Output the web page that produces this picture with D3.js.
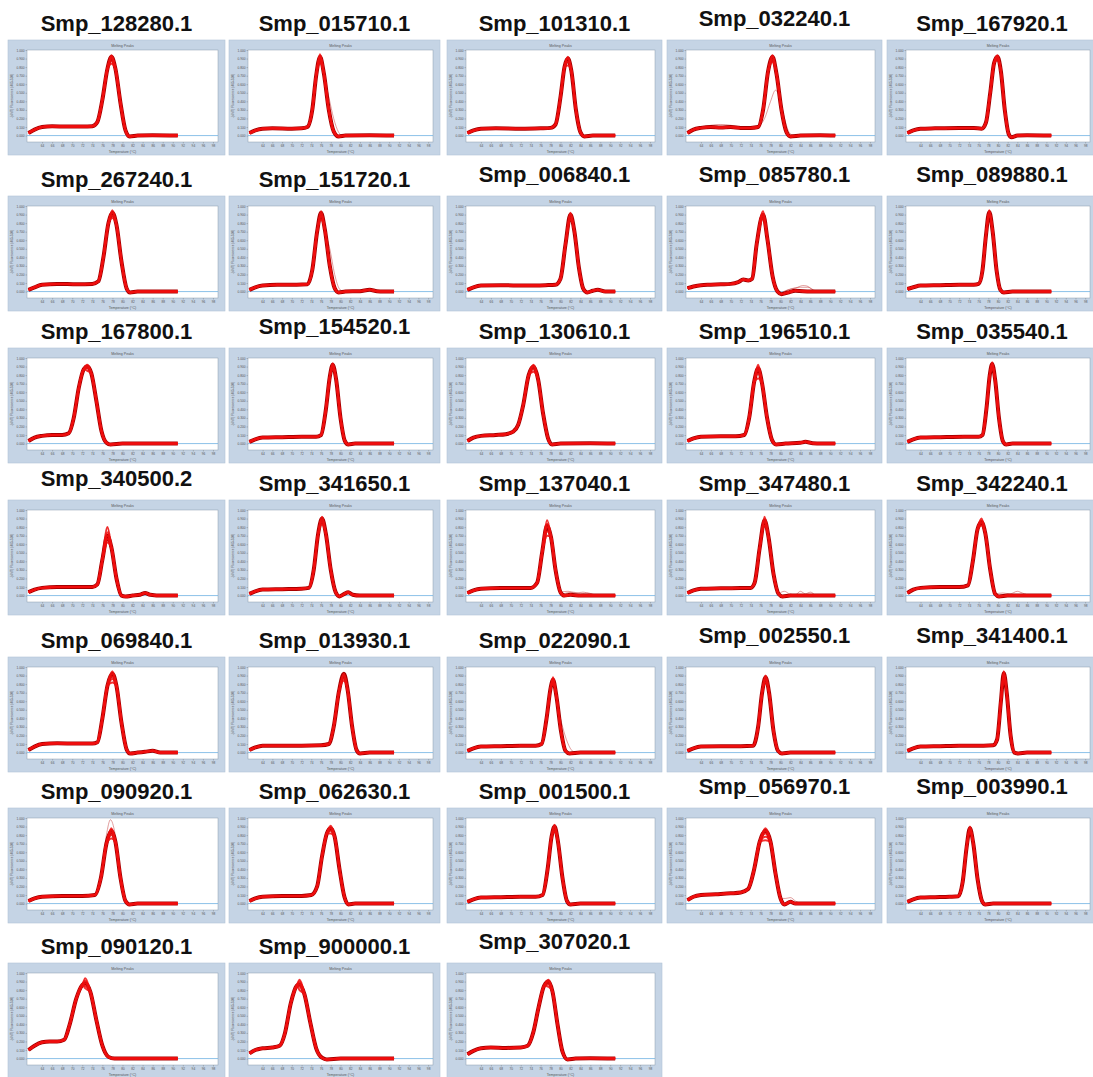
<!DOCTYPE html>
<html>
<head>
<meta charset="utf-8">
<script src="https://cdnjs.cloudflare.com/ajax/libs/d3/7.8.5/d3.min.js"></script>
<style>
  body { margin: 0; background: #fff; }
  svg { display: block; }
  .ttl { font-family: "Liberation Sans", Arial, sans-serif; font-weight: bold; font-size: 22px; fill: #111; }
  .tiny { font-family: "Liberation Sans", Arial, sans-serif; fill: #555; }
</style>
</head>
<body>
<div id="chart"></div>
<script>
// Gene names, in reading order (5 per row)
const geneNames = [
  'Smp_128280.1', 'Smp_015710.1', 'Smp_101310.1', 'Smp_032240.1', 'Smp_167920.1',
  'Smp_267240.1', 'Smp_151720.1', 'Smp_006840.1', 'Smp_085780.1', 'Smp_089880.1',
  'Smp_167800.1', 'Smp_154520.1', 'Smp_130610.1', 'Smp_196510.1', 'Smp_035540.1',
  'Smp_340500.2', 'Smp_341650.1', 'Smp_137040.1', 'Smp_347480.1', 'Smp_342240.1',
  'Smp_069840.1', 'Smp_013930.1', 'Smp_022090.1', 'Smp_002550.1', 'Smp_341400.1',
  'Smp_090920.1', 'Smp_062630.1', 'Smp_001500.1', 'Smp_056970.1', 'Smp_003990.1',
  'Smp_090120.1', 'Smp_900000.1', 'Smp_307020.1'
];

// Melting peak curves: [temperature °C, relative -(d/dT)]
const meltCurves = [
  [[61.3,0.03],[62.5,0.07],[64,0.10],[66,0.11],[69,0.105],[72,0.105],[74,0.11],[75,0.16],[76,0.42],[77,0.78],[77.8,0.92],[78.6,0.78],[79.6,0.38],[80.6,0.06],[81.4,-0.01],[83,0],[86,0.005],[91,0]],
  [[61.3,0.03],[62.5,0.06],[64,0.08],[66,0.085],[70,0.08],[72,0.085],[73.2,0.1],[74.2,0.3],[75,0.7],[75.8,0.92],[76.6,0.72],[77.6,0.3],[78.6,0.05],[79.6,-0.01],[81,0],[86,0.005],[91,0]],
  [[61.3,0.03],[62.5,0.06],[64,0.08],[67,0.085],[72,0.08],[76,0.085],[78,0.09],[79,0.13],[80,0.45],[80.8,0.8],[81.5,0.9],[82.2,0.75],[83.1,0.3],[84,0.04],[84.8,-0.01],[86.5,0],[91,0]],
  [[61.3,0.03],[62.5,0.07],[64,0.09],[66,0.1],[68,0.095],[70,0.1],[72,0.09],[74,0.09],[75.5,0.1],[76.5,0.3],[77.5,0.75],[78.4,0.92],[79.2,0.72],[80.2,0.3],[81.2,0.04],[82,-0.01],[84,0],[88,0.005],[91,0]],
  [[61.3,0.03],[62.5,0.06],[64,0.08],[67,0.085],[72,0.09],[75,0.09],[76.6,0.08],[77.5,0.15],[78.4,0.5],[79.2,0.85],[79.9,0.92],[80.6,0.75],[81.4,0.3],[82.2,0.02],[82.8,-0.02],[84,0],[86,0.005],[91,0]],

  [[61.3,0.02],[62.5,0.05],[64,0.08],[67,0.09],[71,0.085],[74,0.09],[75.2,0.12],[76.2,0.4],[77.2,0.8],[78,0.92],[78.8,0.78],[79.8,0.35],[80.8,0.04],[81.5,-0.01],[83,0],[88,0],[91,0]],
  [[61.3,0.02],[62.5,0.05],[64,0.07],[67,0.08],[71,0.08],[73.2,0.085],[74.2,0.25],[75.2,0.7],[76,0.92],[76.8,0.72],[77.8,0.3],[78.8,0.04],[79.6,-0.01],[81,0],[84,0.005],[86,0.02],[87.5,0.005],[91,0]],
  [[61.3,0.02],[62.5,0.05],[64,0.07],[68,0.075],[73,0.07],[77,0.075],[79,0.08],[80,0.15],[81,0.55],[82,0.9],[82.8,0.7],[83.7,0.28],[84.6,0.03],[85.4,-0.01],[86.5,0.01],[87.5,0.02],[89,0],[91,0]],
  [[61.3,0.04],[62.5,0.06],[64,0.075],[66,0.08],[68,0.085],[70,0.09],[71.5,0.11],[72.5,0.14],[73.5,0.13],[74.3,0.15],[75.2,0.55],[76.5,0.9],[77.4,0.6],[78.4,0.18],[79.4,0],[80.2,-0.03],[81.5,-0.01],[83,0.01],[86,0],[91,0]],
  [[61.3,0.03],[62.5,0.05],[64,0.07],[68,0.075],[72,0.08],[75,0.08],[76,0.09],[76.8,0.25],[77.5,0.65],[78.2,0.93],[78.9,0.7],[79.7,0.25],[80.5,0.02],[81.2,-0.01],[83,0],[91,0]],

  [[61.3,0.03],[62.5,0.07],[64,0.09],[66,0.1],[68,0.1],[69.3,0.12],[70.3,0.3],[71.3,0.65],[72.3,0.87],[73,0.9],[73.8,0.82],[74.8,0.5],[75.8,0.15],[76.8,0.01],[77.6,-0.01],[80,0],[86,0],[91,0]],
  [[61.3,0.02],[62.5,0.05],[64,0.07],[68,0.075],[72,0.08],[75,0.08],[76,0.1],[77,0.4],[77.8,0.78],[78.4,0.92],[79.1,0.75],[80,0.3],[80.9,0.03],[81.6,-0.01],[83,0],[91,0]],
  [[61.3,0.03],[62.5,0.07],[64,0.09],[67,0.1],[69,0.11],[70.5,0.14],[71.5,0.22],[72.5,0.45],[73.6,0.8],[74.6,0.9],[75.5,0.75],[76.5,0.35],[77.5,0.06],[78.3,-0.01],[80,0],[86,0.003],[91,0]],
  [[61.3,0.03],[62.5,0.06],[64,0.08],[68,0.085],[71,0.085],[72.7,0.1],[73.7,0.3],[74.7,0.72],[75.5,0.88],[76.3,0.7],[77.3,0.3],[78.3,0.04],[79.1,-0.01],[81,0],[84,0.01],[85,0.02],[86.5,0.005],[91,0]],
  [[61.3,0.02],[62.5,0.05],[64,0.07],[68,0.075],[73,0.08],[76,0.08],[76.8,0.1],[77.6,0.4],[78.3,0.8],[78.8,0.93],[79.4,0.75],[80.2,0.3],[81,0.03],[81.7,-0.01],[83,0],[91,0]],

  [[61.3,0.04],[62.5,0.07],[64,0.09],[67,0.1],[71,0.1],[74,0.1],[75,0.13],[76,0.42],[77,0.7],[77.8,0.56],[78.8,0.2],[79.8,0],[80.6,-0.01],[82,0],[83.5,0.01],[84.5,0.03],[85.5,0.01],[88,0],[91,0]],
  [[61.3,0.02],[62.5,0.05],[64,0.07],[68,0.075],[72,0.08],[73.5,0.09],[74.5,0.3],[75.4,0.72],[76.2,0.9],[77,0.72],[78,0.3],[79,0.04],[79.8,-0.01],[80.8,0.02],[81.6,0.04],[82.5,0.01],[84,0],[91,0]],
  [[61.3,0.03],[62.5,0.06],[64,0.08],[68,0.09],[72,0.09],[74,0.09],[75.3,0.15],[76.3,0.5],[77.3,0.82],[78.1,0.68],[79,0.3],[80,0.04],[80.8,0],[82,0.01],[84,0],[91,0]],
  [[61.3,0.03],[62.5,0.06],[64,0.08],[68,0.085],[72,0.09],[74,0.09],[74.8,0.15],[75.8,0.55],[76.8,0.88],[77.6,0.68],[78.6,0.25],[79.6,0.02],[80.4,-0.01],[82,0],[91,0]],
  [[61.3,0.03],[62.5,0.07],[64,0.09],[68,0.1],[72,0.1],[73.8,0.12],[74.8,0.4],[75.8,0.78],[76.6,0.86],[77.4,0.72],[78.4,0.3],[79.4,0.02],[80.2,-0.01],[82,0],[91,0]],

  [[61.3,0.03],[62.5,0.07],[64,0.1],[67,0.11],[71,0.105],[74,0.105],[75,0.12],[76,0.4],[77,0.78],[78,0.92],[78.8,0.78],[79.8,0.35],[80.8,0.04],[81.5,-0.01],[83,0],[84.5,0.01],[86,0.02],[87.5,0],[91,0]],
  [[61.3,0.03],[62.5,0.06],[64,0.08],[68,0.08],[72,0.08],[76,0.085],[77.6,0.1],[78.6,0.3],[79.7,0.72],[80.7,0.92],[81.5,0.72],[82.4,0.3],[83.3,0.03],[84,-0.01],[86,0],[91,0]],
  [[61.3,0.02],[62.5,0.05],[64,0.07],[68,0.075],[72,0.08],[75,0.08],[76.2,0.1],[77.2,0.4],[78,0.75],[78.5,0.85],[79.2,0.65],[80.1,0.25],[81,0.02],[81.8,-0.01],[84,0],[91,0]],
  [[61.3,0.02],[62.5,0.05],[64,0.07],[68,0.075],[72,0.075],[74.5,0.08],[75.5,0.3],[76.3,0.7],[77,0.88],[77.7,0.7],[78.6,0.25],[79.5,0.02],[80.3,-0.01],[82,0],[91,0]],
  [[61.3,0.02],[62.5,0.05],[64,0.07],[68,0.075],[72,0.08],[77,0.08],[79,0.085],[79.8,0.15],[80.6,0.6],[81.2,0.93],[81.8,0.7],[82.6,0.2],[83.4,0],[84.2,-0.01],[86,0],[91,0]],

  [[61.3,0.03],[62.5,0.06],[64,0.08],[68,0.09],[72,0.09],[74.5,0.1],[75.7,0.3],[76.8,0.7],[77.8,0.85],[78.6,0.72],[79.6,0.3],[80.6,0.03],[81.4,-0.01],[83,0],[91,0]],
  [[61.3,0.03],[62.5,0.06],[64,0.08],[68,0.09],[72,0.09],[74,0.1],[75.2,0.2],[76.2,0.55],[77.2,0.82],[78,0.88],[78.8,0.78],[79.8,0.4],[80.8,0.08],[81.6,-0.01],[83,0],[91,0]],
  [[61.3,0.02],[62.5,0.05],[64,0.07],[68,0.075],[72,0.08],[75,0.08],[76.4,0.1],[77.4,0.4],[78.2,0.78],[78.8,0.9],[79.5,0.72],[80.4,0.3],[81.3,0.03],[82,-0.01],[84,0],[91,0]],
  [[61.3,0.04],[62.5,0.08],[64,0.1],[67,0.11],[70,0.12],[72,0.13],[73.5,0.17],[74.7,0.4],[75.8,0.72],[77,0.85],[78,0.72],[79,0.35],[80,0.06],[80.8,-0.01],[82,0.02],[83,0],[91,0]],
  [[61.3,0.02],[62.5,0.05],[64,0.07],[67,0.075],[70,0.08],[71.8,0.085],[72.7,0.25],[73.5,0.65],[74.2,0.88],[74.9,0.7],[75.8,0.28],[76.7,0.03],[77.4,-0.01],[79,0],[91,0]],

  [[61.3,0.1],[62.5,0.15],[64,0.19],[65.5,0.2],[67,0.2],[68.4,0.22],[69.5,0.4],[70.8,0.7],[72,0.86],[72.6,0.88],[73.6,0.78],[74.8,0.45],[76,0.15],[77.2,0.02],[78.4,0],[82,0],[91,0]],
  [[61.3,0.06],[62.5,0.1],[64,0.12],[66,0.13],[67.5,0.15],[68.6,0.3],[69.8,0.65],[71,0.85],[71.6,0.87],[72.6,0.75],[73.8,0.42],[75,0.12],[76.2,0.01],[77.2,-0.01],[80,0],[91,0]],
  [[61.3,0.05],[62.5,0.09],[64,0.12],[66,0.13],[69,0.125],[72,0.13],[73.4,0.15],[74.5,0.3],[75.6,0.6],[76.7,0.85],[77.6,0.9],[78.4,0.78],[79.4,0.4],[80.4,0.08],[81.4,-0.01],[83,0],[86,0.005],[91,0]]
];

// Apex heights of the replicate curves in each panel (spread of the red band)
const peakReps = [
  [0.84,0.87,0.90,0.92,0.94], [0.85,0.88,0.91,0.93,0.95], [0.82,0.86,0.90,0.92], [0.86,0.89,0.92,0.94], [0.88,0.90,0.92,0.94],
  [0.86,0.89,0.92,0.95], [0.84,0.88,0.91,0.94], [0.84,0.87,0.90,0.92], [0.85,0.88,0.91,0.94], [0.89,0.91,0.93,0.95],
  [0.85,0.88,0.90,0.92], [0.87,0.90,0.92,0.94], [0.84,0.87,0.90,0.92], [0.76,0.82,0.86,0.89,0.92], [0.88,0.91,0.93,0.95],
  [0.62,0.66,0.70,0.74,0.80], [0.83,0.86,0.89,0.92], [0.70,0.75,0.80,0.84,0.88], [0.82,0.86,0.89,0.92], [0.82,0.85,0.88,0.90],
  [0.82,0.86,0.89,0.92,0.95], [0.84,0.87,0.90,0.92], [0.80,0.83,0.86,0.88], [0.82,0.85,0.88,0.90], [0.88,0.91,0.93,0.95],
  [0.76,0.80,0.83,0.86,0.88], [0.82,0.85,0.88,0.91], [0.84,0.87,0.90,0.92], [0.74,0.78,0.82,0.85,0.88], [0.84,0.86,0.88,0.90],
  [0.82,0.85,0.88,0.91,0.94], [0.80,0.84,0.87,0.90,0.92], [0.84,0.87,0.90,0.92]
];

// Single outlier replicate traces (faint thin lines), by panel index
const outliers = {
  1: [[[76.6,0.7],[77.6,0.45],[78.6,0.2],[79.6,0.04],[80.4,0]]],
  3: [[[75.5,0.1],[76.8,0.2],[78,0.4],[79,0.53],[79.8,0.45],[80.8,0.2],[81.8,0.03],[82.6,0]],
      [[64,0.09],[66,0.12],[68,0.13],[70,0.12],[72,0.1],[74,0.09]]],
  6: [[[76.8,0.7],[77.8,0.5],[78.8,0.2],[79.8,0.03],[80.6,0]]],
  8: [[[80.2,-0.02],[81.5,0.02],[83,0.04],[84.5,0.07],[85.3,0.065],[86.3,0.03],[87.3,0]],
      [[80.2,-0.01],[82,0.03],[84,0.05],[85.5,0.05],[86.8,0]]],
  15: [[[75,0.13],[76,0.5],[76.9,0.8],[77.7,0.62],[78.7,0.22],[79.7,0]]],
  17: [[[80,0.04],[81.5,0.05],[83,0.03],[84.5,0.04],[86,0.02],[88,0]],
       [[80.5,0.02],[82.5,0.04],[84,0.02],[85.5,0.03],[87,0]]],
  18: [[[79.6,0.02],[80.8,0.05],[81.8,0.02],[83,0.01],[84,0.05],[85,0.02],[86,0.04],[87,0]]],
  19: [[[79.4,0.02],[81,0.03],[82.5,0.02],[84,0.05],[85,0.03],[86.5,0]]],
  22: [[[79.2,0.6],[80.2,0.35],[81.2,0.15],[82.2,0.03],[83,0]]],
  25: [[[75.7,0.3],[76.8,0.8],[77.6,0.98],[78.5,0.82],[79.5,0.35],[80.5,0.04],[81.3,0]]],
  28: [[[80,0.06],[81,0.06],[82,0.07],[83,0.03],[84,0]]]
};

// Axis ticks
const xTicks = [64, 66, 68, 70, 72, 74, 76, 78, 80, 82, 84, 86, 88, 90, 92, 94, 96, 98];
const yTicks = [0, 0.1, 0.2, 0.3, 0.4, 0.5, 0.6, 0.7, 0.8, 0.9, 1.0];

// ---- layout ----
const width = 1093, height = 1077;
const colX = [8, 229, 447, 667, 887];
const colW = [217, 211, 215, 215, 210];
const rowY = [40, 196, 348, 500, 657, 808, 963];
const rowH = 115;
const m = { l: 19, t: 10, r: 7, b: 13 };
const raisedTitle = new Set([3, 7, 8, 9, 11, 15, 23, 24, 28, 29, 32]);

const svg = d3.select('#chart').append('svg')
  .attr('width', width)
  .attr('height', height);

// soften the traces a little, like the scanned original
svg.append('defs').append('filter').attr('id', 'soft')
  .append('feGaussianBlur').attr('stdDeviation', 0.3);

const line = d3.line().curve(d3.curveMonotoneX);

geneNames.forEach((name, i) => {
  const col = i % 5, row = Math.floor(i / 5);
  const w = colW[col], h = rowH;
  const g = svg.append('g').attr('transform', `translate(${colX[col]},${rowY[row]})`);

  // gene title
  g.append('text')
    .attr('class', 'ttl')
    .attr('x', w / 2)
    .attr('y', raisedTitle.has(i) ? -14 : -9)
    .attr('text-anchor', 'middle')
    .text(name);

  // panel background
  g.append('rect')
    .attr('width', w).attr('height', h)
    .attr('fill', '#c5d4e5')
    .attr('stroke', '#b3c4d6').attr('stroke-width', 0.6);

  const x = d3.scaleLinear().domain([61, 99]).range([m.l, w - m.r]);
  const y = d3.scaleLinear().domain([-0.075, 1.0]).range([h - m.b, m.t]);

  g.append('rect')
    .attr('x', m.l).attr('y', m.t)
    .attr('width', w - m.l - m.r).attr('height', h - m.t - m.b)
    .attr('fill', '#fff')
    .attr('stroke', '#8c9cae').attr('stroke-width', 0.5);

  g.append('text').attr('class', 'tiny')
    .attr('x', (m.l + w - m.r) / 2).attr('y', m.t - 3)
    .attr('text-anchor', 'middle').attr('font-size', 3.6)
    .text('Melting Peaks');

  const yAxis = g.append('g')
    .attr('transform', `translate(${m.l},0)`)
    .call(d3.axisLeft(y).tickValues(yTicks).tickFormat(d3.format('.3f')).tickSize(1.5).tickPadding(1));
  const xAxis = g.append('g')
    .attr('transform', `translate(0,${h - m.b})`)
    .call(d3.axisBottom(x).tickValues(xTicks).tickSize(1.5).tickPadding(1));
  [yAxis, xAxis].forEach(a => {
    a.select('.domain').remove();
    a.selectAll('line').attr('stroke', '#777').attr('stroke-width', 0.4);
    a.selectAll('text').attr('class', 'tiny').attr('font-size', 3.2).attr('fill', '#555');
  });

  g.append('text').attr('class', 'tiny')
    .attr('x', (m.l + w - m.r) / 2).attr('y', h - 2.5)
    .attr('text-anchor', 'middle').attr('font-size', 3.6)
    .text('Temperature (°C)');
  g.append('text').attr('class', 'tiny')
    .attr('transform', `translate(4.5,${(m.t + h - m.b) / 2}) rotate(-90)`)
    .attr('text-anchor', 'middle').attr('font-size', 3.2)
    .text('-(d/dT) Fluorescence (465-510)');

  // clip curves to the plot area
  const clipId = 'clip' + i;
  g.append('clipPath').attr('id', clipId)
    .append('rect')
    .attr('x', m.l).attr('y', m.t)
    .attr('width', w - m.l - m.r).attr('height', h - m.t - m.b);
  const plot = g.append('g').attr('clip-path', `url(#${clipId})`);
  const traces = plot.append('g').attr('filter', 'url(#soft)');

  // negative control / zero baseline
  plot.append('path')
    .attr('d', line([[61, 0], [99, 0]].map(d => [x(d[0]), y(d[1])])))
    .attr('fill', 'none').attr('stroke', '#6fb3e3').attr('stroke-width', 0.8);
  plot.node().appendChild(traces.node());

  const curve = meltCurves[i];
  const apex = d3.maxIndex(curve, d => d[1]);
  const toPx = pts => pts.map(d => [x(d[0]), y(d[1])]);

  // outliers
  (outliers[i] || []).forEach(pts => {
    traces.append('path')
      .attr('d', line(toPx(pts)))
      .attr('fill', 'none').attr('stroke', '#c23a3a')
      .attr('stroke-width', 0.7).attr('opacity', 0.7);
  });

  // dark underlay for the replicate band
  traces.append('path')
    .attr('d', line(toPx(curve)))
    .attr('fill', 'none').attr('stroke', '#a80000')
    .attr('stroke-width', 4).attr('stroke-linejoin', 'round');

  // replicates
  peakReps[i].forEach(v => {
    const pts = curve.map((d, k) => k === apex ? [d[0], v] : d);
    traces.append('path')
      .attr('d', line(toPx(pts)))
      .attr('fill', 'none').attr('stroke', '#f01010')
      .attr('stroke-width', 2).attr('opacity', 0.85);
  });
});
</script>
</body>
</html>
